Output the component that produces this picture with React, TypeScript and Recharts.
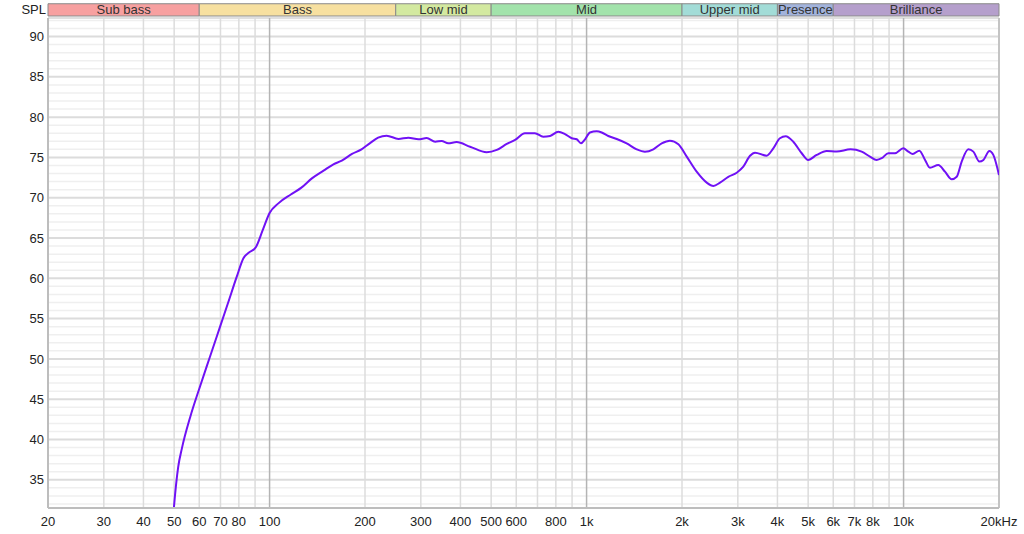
import { LineChart, Line, XAxis, YAxis, ReferenceLine, ReferenceArea } from "recharts";

const FREQ = [
  49.5, 49.9, 51.5, 52.9, 56.2, 60.3, 64.9, 69.8, 73.9, 78.8, 82.7, 86.1, 90.5, 95.2, 100, 106.6, 116.7, 126, 136, 148,
  159, 169, 182, 195, 207, 220, 234, 255, 274, 295, 313, 333, 349, 366, 389, 429, 484, 521, 560, 595, 639,
  687, 730, 767, 814, 855, 898, 931, 960, 989, 1025, 1076, 1116, 1171, 1245, 1338, 1439, 1528, 1624, 1726,
  1832, 1948, 2070, 2225, 2394, 2512, 2636, 2800, 2976, 3122, 3278, 3399, 3698, 3882, 4074, 4246, 4488,
  4772, 5000, 5320, 5720, 6152, 6802, 7376, 7834, 8224, 8532, 8954, 9398, 9980, 10352, 10688, 11216, 11690,
  12110, 12872, 13510, 14184, 14710, 15252, 16010, 16600, 17340, 17860, 18650, 19190, 20000,
];

const SPL = [
  29.8, 31.5, 36.6, 38.9, 42.8, 46.55, 50.3, 54.0, 56.9, 60.2, 62.5, 63.2, 63.85, 66.0, 68.1, 69.3, 70.4, 71.25,
  72.4, 73.36, 74.15, 74.6, 75.43, 76.0, 76.75, 77.45, 77.7, 77.3, 77.45, 77.25, 77.4, 76.95, 77.04, 76.75,
  76.9, 76.33, 75.64, 75.93, 76.67, 77.17, 78.0, 78.0, 77.58, 77.66, 78.2, 77.9, 77.38, 77.25, 76.75, 77.25,
  78.1, 78.24, 78.1, 77.66, 77.29, 76.75, 76.0, 75.7, 76.0, 76.75, 77.08, 76.63, 75.1, 73.23, 71.87, 71.46,
  71.87, 72.6, 73.1, 73.85, 75.2, 75.59, 75.22, 76.13, 77.38, 77.62, 76.95, 75.52, 74.69, 75.31, 75.8, 75.72,
  76.0, 75.72, 75.1, 74.69, 74.9, 75.52, 75.52, 76.13, 75.72, 75.43, 75.84, 74.69, 73.73, 74.07, 73.23,
  72.29, 72.6, 74.48, 76.0, 75.72, 74.48, 74.69, 75.8, 75.31, 72.82,
];

const X_TICKS = [20, 30, 40, 50, 60, 70, 80, 100, 200, 300, 400, 500, 600, 800, 1000, 2000, 3000, 4000, 5000, 6000, 7000, 8000, 10000, 20000];
const X_GRID = [30, 40, 50, 60, 70, 80, 90, 200, 300, 400, 500, 600, 700, 800, 900, 2000, 3000, 4000, 5000, 6000, 7000, 8000, 9000];
const X_DECADES = [100, 1000, 10000];
const Y_TICKS = [35, 40, 45, 50, 55, 60, 65, 70, 75, 80, 85, 90];
const Y_MIN = 31.5;
const Y_MAX = 92.3;

const BAND_NAMES = ["Sub bass", "Bass", "Low mid", "Mid", "Upper mid", "Presence", "Brilliance"];
const BAND_EDGES = [20, 60, 250, 500, 2000, 4000, 6000, 20000];
const BAND_COLORS = ["#f7a0a0", "#f7e0a0", "#d3e9a0", "#a2e3ab", "#a2dcd7", "#a2b3dc", "#b59fcc"];
// the band strip sits just above the plot, in dB units of the same y scale
const BAND_LOW = 92.55;
const BAND_HIGH = 94.07;

const data = FREQ.map((f, i) => ({ f, spl: SPL[i] }));
const yLines: number[] = [];
for (let v = 32; v <= 92; v++) yLines.push(v);

const FONT = "'Liberation Sans', Arial, sans-serif";
const W = 1024;
const H = 534;

function fmtFreq(v: number) {
  if (v === 20000) return "20kHz";
  if (v >= 1000) return `${v / 1000}k`;
  return `${v}`;
}

export default function App() {
  return (
    <div style={{ position: "absolute", left: 0, top: 0, width: W, height: H, background: "#fff", fontFamily: FONT }}>
      <div style={{ position: "absolute", left: 0, top: 2, width: 46, textAlign: "right", fontSize: 13, color: "#222" }}>
        SPL
      </div>
      <div style={{ position: "absolute", left: 0, top: 0 }}>
        <LineChart width={W} height={H} data={data} margin={{ top: 18, right: 25, bottom: 0, left: 0 }}>
          {yLines.map((v) => (
            <ReferenceLine key={"y" + v} y={v} stroke={v % 5 === 0 ? "#dcdcdc" : "#efefef"} strokeWidth={v % 5 === 0 ? 2 : 1.5} />
          ))}
          <ReferenceLine y={Y_MAX} stroke="#d4d4d4" strokeWidth={1.5} />
          {X_GRID.map((v) => (
            <ReferenceLine key={"x" + v} x={v} stroke="#dcdcdc" strokeWidth={1.5} />
          ))}
          {X_DECADES.map((v) => (
            <ReferenceLine key={"d" + v} x={v} stroke="#b4b4b4" strokeWidth={1.5} />
          ))}
          <ReferenceLine x={20000} stroke="#c4c4c4" strokeWidth={2} />
          {BAND_NAMES.map((name, i) => (
            <ReferenceArea
              key={name}
              x1={BAND_EDGES[i]}
              x2={BAND_EDGES[i + 1]}
              y1={BAND_LOW}
              y2={BAND_HIGH}
              ifOverflow="visible"
              fill={BAND_COLORS[i]}
              fillOpacity={1}
              stroke="#8a8a8a"
              strokeWidth={1}
              label={{ value: name, position: "center", fill: "#333", fontSize: 13, fontFamily: FONT }}
            />
          ))}
          <XAxis
            dataKey="f"
            type="number"
            scale="log"
            domain={[20, 20000]}
            ticks={X_TICKS}
            tickFormatter={fmtFreq}
            interval={0}
            height={26}
            tickLine={false}
            tickSize={0}
            tickMargin={9}
            axisLine={{ stroke: "#bdbdbd", strokeWidth: 2 }}
            tick={{ fill: "#222", fontSize: 13, fontFamily: FONT }}
            allowDataOverflow
          />
          <YAxis
            type="number"
            domain={[Y_MIN, Y_MAX]}
            ticks={Y_TICKS}
            width={48}
            interval={0}
            tickLine={false}
            tickSize={0}
            tickMargin={4}
            axisLine={{ stroke: "#bdbdbd", strokeWidth: 2 }}
            tick={{ fill: "#222", fontSize: 13, fontFamily: FONT }}
            allowDataOverflow
          />
          <Line
            dataKey="spl"
            type="monotone"
            stroke="#7011f5"
            strokeWidth={2}
            dot={false}
            isAnimationActive={false}
          />
        </LineChart>
      </div>
    </div>
  );
}
